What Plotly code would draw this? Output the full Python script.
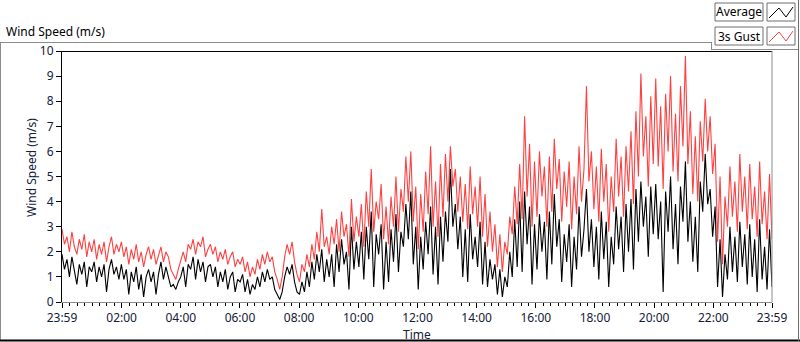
import plotly.graph_objects as go
import pandas as pd

# ---------------- data (5-minute samples) ----------------
gust_00_06 = [2.9, 2.3, 2.6, 2.0, 2.8, 2.2, 1.9, 2.5, 2.1, 2.7, 1.8, 2.4,
              2.0, 2.5, 1.7, 2.3, 1.9, 2.4, 1.6, 2.2, 2.6, 1.9, 2.3, 2.0,
              2.4, 1.8, 2.2, 1.5, 2.1, 1.7, 2.3, 1.6, 2.0, 1.4, 1.9, 2.2,
              1.7, 2.1, 1.5, 1.9, 2.2, 1.6, 2.0, 1.8, 1.3, 1.1, 0.9, 1.3,
              1.7, 2.0, 1.6, 2.3, 2.1, 2.5, 1.9, 2.4, 2.2, 2.6, 1.8, 2.1,
              2.3, 1.9, 2.2, 1.6, 2.0, 1.7, 2.1, 1.5, 1.8, 2.0, 1.4, 1.7]
gust_06_12 = [1.5, 1.8, 1.2, 1.6, 1.0, 1.4, 1.1, 1.7, 1.3, 1.9, 1.5, 2.0,
              1.6, 1.8, 1.2, 0.9, 0.5, 1.0, 1.8, 2.3, 1.9, 2.4, 1.6, 1.1,
              0.8, 1.5, 1.2, 1.9, 1.4, 2.3, 1.7, 2.8, 2.0, 3.7, 2.2, 2.6,
              1.9, 3.0, 2.3, 3.3, 2.0, 3.6, 2.6, 3.1, 1.8, 4.1, 2.4, 3.4,
              2.6, 3.9, 2.2, 4.4, 3.0, 5.3, 2.8, 4.0, 3.3, 4.7, 2.5, 3.8,
              2.3, 4.2, 3.0, 5.0, 2.8, 4.5, 3.6, 5.8, 4.0, 6.0, 3.2, 4.6]
gust_12_18 = [2.1, 4.3, 2.8, 5.2, 3.5, 6.2, 3.0, 4.8, 2.6, 5.5, 3.4, 5.9,
              4.0, 6.2, 4.6, 5.3, 3.6, 5.0, 3.2, 4.7, 2.9, 5.4, 3.5, 4.6,
              3.0, 5.0, 2.6, 4.3, 2.2, 3.6, 2.0, 3.1, 1.4, 2.7, 1.2, 2.4,
              1.9, 3.4, 2.7, 4.6, 3.1, 5.5, 3.3, 7.4, 4.2, 6.3, 3.0, 5.6,
              3.4, 6.0, 4.2, 5.4, 3.0, 5.8, 3.6, 6.5, 4.5, 5.7, 3.2, 5.2,
              3.8, 5.6, 2.9, 5.0, 3.5, 6.2, 4.0, 5.3, 8.6, 4.8, 6.0, 3.7]
gust_18_24 = [5.4, 3.2, 6.1, 4.0, 5.5, 2.8, 5.0, 3.6, 6.5, 4.2, 5.8, 3.4,
              6.2, 4.4, 6.8, 3.9, 7.6, 5.0, 9.1, 5.8, 7.4, 4.6, 8.2, 5.5,
              8.9, 5.4, 7.8, 4.5, 8.3, 6.0, 9.0, 5.2, 7.5, 4.8, 8.6, 6.2,
              9.8, 5.5, 7.6, 4.3, 6.6, 4.0, 7.2, 5.6, 8.1, 6.0, 7.4, 5.1,
              6.3, 2.4, 5.0, 1.5, 4.2, 3.0, 5.4, 3.4, 4.8, 2.8, 5.9, 3.6,
              5.0, 2.9, 5.5, 3.3, 4.6, 2.6, 5.6, 3.1, 4.4, 2.5, 5.1, 2.5]

avg_00_06 = [1.9, 1.3, 1.7, 1.0, 1.8, 1.2, 0.7, 1.5, 1.1, 1.6, 0.6, 1.4,
             1.2, 1.6, 0.8, 1.4, 1.0, 1.5, 0.4, 1.3, 1.7, 1.1, 1.4, 0.9,
             1.5, 0.9, 1.3, 0.3, 1.2, 0.8, 1.4, 0.5, 1.1, 0.2, 1.0, 1.3,
             0.8, 1.2, 0.3, 1.1, 1.6, 0.9, 1.4, 1.0, 0.6, 0.7, 0.5, 0.8,
             1.0, 1.4, 0.6, 1.5, 1.3, 1.8, 0.9, 1.7, 1.2, 1.6, 0.8, 1.4,
             1.5, 1.0, 1.4, 0.6, 1.2, 0.8, 1.3, 0.5, 1.0, 1.2, 0.4, 0.9]
avg_06_12 = [0.8, 1.1, 0.4, 0.9, 0.3, 0.7, 0.5, 1.0, 0.6, 1.2, 0.8, 1.3,
             0.9, 1.0, 0.5, 0.3, 0.1, 0.4, 1.0, 1.4, 1.1, 1.5, 0.8, 0.4,
             0.3, 0.8, 0.4, 1.2, 0.6, 1.6, 0.9, 1.9, 1.2, 2.1, 0.8, 1.7,
             1.0, 1.9, 0.6, 2.3, 1.2, 2.5, 1.5, 2.0, 0.5, 3.0, 1.3, 2.4,
             1.4, 2.8, 0.9, 3.0, 1.7, 3.6, 0.6, 2.7, 1.9, 3.1, 0.5, 2.4,
             0.8, 2.9, 1.6, 3.5, 1.2, 2.8, 2.2, 3.9, 2.5, 4.4, 1.5, 3.0]
avg_12_18 = [0.5, 2.6, 1.3, 3.2, 1.9, 3.8, 1.1, 3.0, 0.7, 3.4, 1.6, 3.6,
             2.4, 5.3, 3.0, 3.9, 2.1, 3.4, 1.0, 2.9, 0.8, 3.5, 1.7, 2.6,
             1.4, 3.2, 0.7, 2.4, 0.6, 1.7, 0.9, 1.5, 0.3, 1.3, 0.2, 1.0,
             0.6, 2.0, 1.0, 3.3, 1.4, 4.0, 1.2, 4.4, 2.3, 3.8, 0.7, 3.1,
             1.3, 3.5, 2.0, 3.2, 0.9, 3.6, 1.5, 4.3, 2.2, 3.3, 0.8, 2.7,
             1.6, 3.1, 0.6, 2.6, 1.3, 3.8, 1.8, 2.9, 4.5, 2.0, 3.3, 1.4]
avg_18_24 = [3.0, 0.9, 3.6, 1.7, 3.2, 0.6, 2.6, 1.5, 3.8, 2.1, 3.4, 1.2,
             3.9, 2.0, 4.1, 1.3, 4.5, 2.4, 4.8, 3.0, 4.2, 1.8, 4.6, 2.7,
             4.7, 2.5, 4.0, 0.4, 4.4, 2.8, 5.0, 2.1, 3.9, 1.5, 4.6, 3.2,
             5.6, 2.4, 4.0, 1.6, 3.4, 1.2, 4.8, 3.6, 5.9, 3.9, 4.5, 2.6,
             3.8, 0.6, 2.5, 0.2, 1.9, 0.9, 3.0, 1.2, 2.6, 0.8, 3.2, 1.4,
             2.7, 0.7, 3.1, 1.0, 2.5, 0.4, 3.3, 0.9, 2.2, 0.5, 2.9, 0.6]

gust = gust_00_06 + gust_06_12 + gust_12_18 + gust_18_24
average = avg_00_06 + avg_06_12 + avg_12_18 + avg_18_24

time_start = "2024-01-01 23:59"
time_end = "2024-01-02 23:59"
tick_times = ["2024-01-01 23:59", "2024-01-02 02:00", "2024-01-02 04:00",
              "2024-01-02 06:00", "2024-01-02 08:00", "2024-01-02 10:00",
              "2024-01-02 12:00", "2024-01-02 14:00", "2024-01-02 16:00",
              "2024-01-02 18:00", "2024-01-02 20:00", "2024-01-02 22:00",
              "2024-01-02 23:59"]
tick_labels = ["23:59", "02:00", "04:00", "06:00", "08:00", "10:00", "12:00",
               "14:00", "16:00", "18:00", "20:00", "22:00", "23:59"]
y_ticks = list(range(0, 11))

times = pd.date_range(time_start, time_end, periods=len(gust))

# ---------------- layout helpers (pixel -> paper) ----------------
L, R, T, B = 62, 28, 51, 40
W, H = 800, 342
PW, PH = W - L - R, H - T - B


def PX(x):
    return (x - L) / PW


def PY(y):
    return (H - B - y) / PH


TXT = "#14203a"
FONT = "Noto Sans, DejaVu Sans, sans-serif"

fig = go.Figure()
fig.add_trace(go.Scatter(x=times, y=gust, mode="lines", name="3s Gust",
                         line=dict(color="#ff4040", width=1.1)))
fig.add_trace(go.Scatter(x=times, y=average, mode="lines", name="Average",
                         line=dict(color="#000000", width=1.1)))

fig.update_layout(
    width=W, height=H,
    margin=dict(l=L, r=R, t=T, b=B),
    paper_bgcolor="white", plot_bgcolor="white",
    showlegend=False,
    font=dict(family=FONT, size=12, color=TXT),
)
fig.update_xaxes(
    range=[time_start, time_end], tickmode="array",
    tickvals=tick_times, ticktext=tick_labels,
    showgrid=False, zeroline=False,
    showline=True, linecolor="#8c8c8c", linewidth=1,
    ticks="outside", ticklen=5, tickcolor="#000000", tickwidth=1,
    tickfont=dict(size=12, color=TXT),
    minor=dict(ticks="outside", ticklen=3, tickcolor="#000000",
               dtick=15 * 60 * 1000, tick0="2024-01-02 00:00", showgrid=False),
)
fig.update_yaxes(
    range=[0, 10], tickmode="array", tickvals=y_ticks,
    showgrid=False, zeroline=False,
    showline=True, linecolor="#000000", linewidth=1,
    ticks="outside", ticklen=5, tickcolor="#000000",
    tickfont=dict(size=12, color=TXT),
)

shapes = []


def line(x0, y0, x1, y1, color, width=1):
    shapes.append(dict(type="line", xref="paper", yref="paper",
                       x0=PX(x0), y0=PY(y0), x1=PX(x1), y1=PY(y1),
                       line=dict(color=color, width=width)))


# plot frame (top black, right gray)
line(62, 51.5, 772, 51.5, "#000000")
line(772, 51, 772, 302, "#8c8c8c")
# outer panel
line(0, 42.5, 711, 42.5, "#8c8c8c")
line(0.5, 42, 0.5, 341, "#8c8c8c")
line(0, 340.5, 800, 340.5, "#000000", 2)
line(798.5, 0, 798.5, 341, "#6e6e6e")
line(711, 49.5, 798, 49.5, "#8c8c8c")
line(711.5, 42, 711.5, 49.5, "#8c8c8c")

# legend boxes
legend_rows = [("Average", "#000000", 3), ("3s Gust", "#ff4040", 27)]
annotations = []
for label, color, top in legend_rows:
    shapes.append(dict(type="rect", xref="paper", yref="paper",
                       x0=PX(715), x1=PX(763), y0=PY(top), y1=PY(top + 18),
                       line=dict(color="#6e6e6e", width=1), fillcolor="white"))
    shapes.append(dict(type="rect", xref="paper", yref="paper",
                       x0=PX(767), x1=PX(795), y0=PY(top), y1=PY(top + 18),
                       line=dict(color="#6e6e6e", width=1), fillcolor="white"))
    pts = [(769, top + 15), (779, top + 5), (786, top + 14), (793, top + 4)]
    path = "M " + " L ".join(f"{PX(a)},{PY(b)}" for a, b in pts)
    shapes.append(dict(type="path", xref="paper", yref="paper", path=path,
                       line=dict(color=color, width=1)))
    annotations.append(dict(text=label, xref="paper", yref="paper",
                            x=PX(739), y=PY(top + 9), xanchor="center",
                            yanchor="middle", showarrow=False,
                            font=dict(size=12, color="#000000", family=FONT)))

annotations += [
    dict(text="Wind Speed (m/s)", xref="paper", yref="paper", x=PX(4),
         y=PY(31), xanchor="left", yanchor="middle", showarrow=False,
         font=dict(size=12, color="#000000", family=FONT)),
    dict(text="Time", xref="paper", yref="paper", x=PX(417), y=PY(334),
         xanchor="center", yanchor="middle", showarrow=False,
         font=dict(size=12, color=TXT, family=FONT)),
    dict(text="Wind Speed (m/s)", xref="paper", yref="paper", x=PX(31),
         y=PY(168), xanchor="center", yanchor="middle", textangle=-90,
         showarrow=False, font=dict(size=12, color=TXT, family=FONT)),
]

fig.update_layout(shapes=shapes, annotations=annotations)
fig.write_html("out.html",
               config={"displayModeBar": False},
               post_script="document.body.style.margin='0';"
                           "document.body.style.overflow='hidden';")
